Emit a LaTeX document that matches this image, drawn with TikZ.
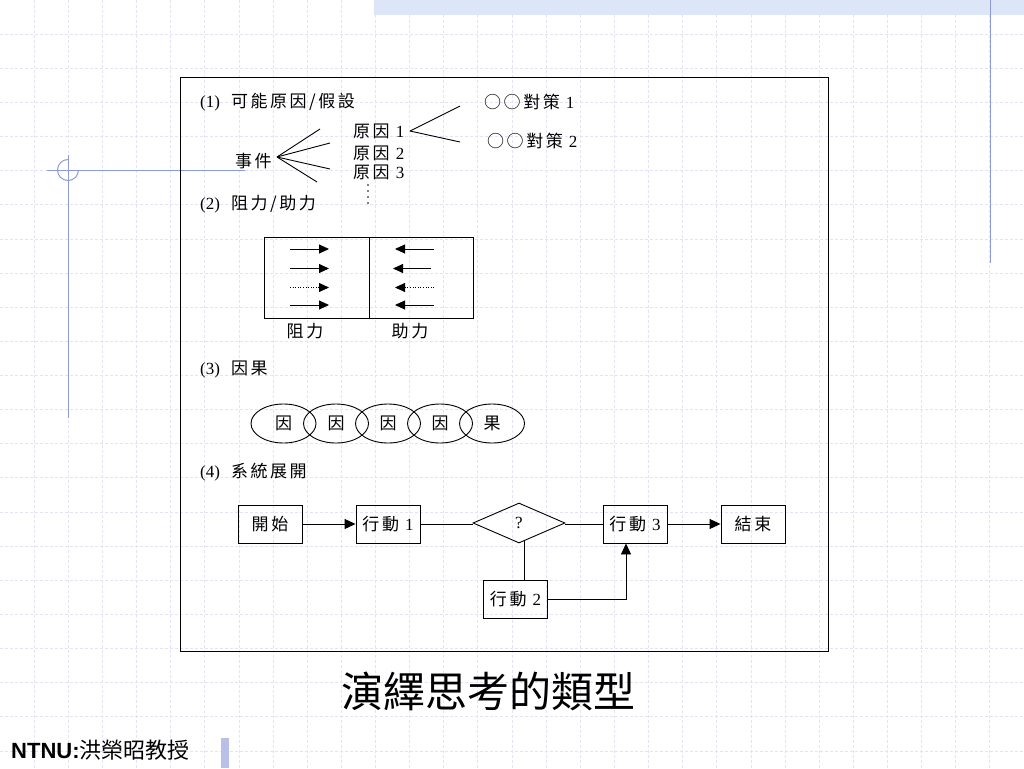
\documentclass[tikz,border=0pt]{standalone}
\usepackage{fontspec}
\setmainfont{Liberation Serif}
\newfontfamily\cj{Noto Sans CJK TC}[LetterSpace=15]
\newfontfamily\cjt{Noto Sans CJK TC}
\newfontfamily\arialf{Liberation Sans}
\usetikzlibrary{shapes.geometric,arrows.meta,calc}
\definecolor{gridc}{RGB}{226,228,243}
\definecolor{bandc}{RGB}{221,229,248}
\definecolor{bluel}{RGB}{140,154,216}
\definecolor{barc}{RGB}{184,192,232}
\tikzset{
  gridline/.style={draw=gridc, line width=0.8pt, dash pattern=on 3pt off 2pt},
  blueline/.style={draw=bluel, line width=1pt},
  lbl/.style={inner sep=0pt, anchor=west, font=\fontsize{17}{20}\selectfont},
  ctr/.style={inner sep=0pt, font=\fontsize{17}{20}\selectfont},
  fb/.style={draw, line width=0.9pt, minimum width=64pt, minimum height=38pt, inner sep=0pt, font=\fontsize{17}{20}\selectfont},
  dia/.style={draw, diamond, line width=0.9pt, minimum width=92pt, minimum height=40pt, inner sep=0pt, font=\fontsize{17}{20}\selectfont},
  ell/.style={draw, ellipse, line width=0.9pt, minimum width=65pt, minimum height=39pt, inner sep=0pt, font=\fontsize{17}{20}\selectfont},
  con/.style={line width=0.9pt},
  arr/.style={line width=0.9pt, -{Triangle[length=11pt,width=10pt]}},
  farr/.style={line width=0.9pt, -{Triangle[length=10pt,width=9pt]}},
}
\begin{document}
\begin{tikzpicture}[x=1pt,y=-1pt]
\useasboundingbox (0,0) rectangle (1024,768);
\fill[white] (0,0) rectangle (1024,768);
% background grid
\foreach \k in {1,...,29} \draw[gridline] (\k*34.133,0) -- (\k*34.133,768);
\foreach \k in {1,...,22} \draw[gridline] (0,\k*34.133) -- (1024,\k*34.133);
\fill[bandc] (374,0) rectangle (1024,15);
\draw[blueline] (990,0) -- (990,263);
\draw[blueline] (68,155) -- (68,418);
\draw[blueline] (47,170) -- (245,170);
\draw[blueline] (68,159.5) arc[start angle=-90,end angle=-360,radius=10.5];
\fill[barc] (221,738) rectangle (229,768);

% main frame
\draw[line width=1pt] (180,77) rectangle (828,651);

% (1)
\node[lbl] (h1) at (200,102) {(1)\hspace{11pt}{\cj 可能原因/假設}};
\node[lbl] (m1) at (484,102) {{\cj ○○對策}\hspace{6pt}1};
\node[lbl] (m2) at (487,141) {{\cj ○○對策}\hspace{6pt}2};
\node[lbl] (r1) at (353,131) {{\cj 原因}\hspace{6pt}1};
\node[lbl] (r2) at (353,153) {{\cj 原因}\hspace{6pt}2};
\node[lbl] (r3) at (353,172) {{\cj 原因}\hspace{6pt}3};
\foreach \y in {185,191,197,203} \fill (368,\y) circle (0.9);
\node[lbl] (ev) at (235,161) {\cj 事件};
\coordinate (f0) at (277,157);
\coordinate (f1) at (320,129);
\coordinate (f2) at (330,143);
\coordinate (f3) at (330,169);
\coordinate (f4) at (317,182);
\foreach \e in {f1,f2,f3,f4} \draw[con] (f0) -- (\e);
\coordinate (g0) at (410,131);
\coordinate (g1) at (460,106);
\coordinate (g2) at (460,142);
\draw[con] (g0) -- (g1);
\draw[con] (g0) -- (g2);

% (2)
\node[lbl] (h2) at (200,204) {(2)\hspace{11pt}{\cj 阻力/助力}};
\draw[line width=0.9pt] (264,237) rectangle (473,318);
\draw[line width=0.9pt] (369,237) -- (369,318);
\draw[farr] (290,249) -- (329,249);
\draw[farr] (290,268.5) -- (329,268.5);
\draw[line width=0.6pt, dotted] (290,287.5) -- (320,287.5);
\draw[farr] (318,287.5) -- (329,287.5);
\draw[farr] (290,305) -- (329,305);
\draw[farr] (434,249) -- (395,249);
\draw[farr] (431,268.5) -- (393,268.5);
\draw[line width=0.6pt, dotted] (434,287.5) -- (404,287.5);
\draw[farr] (406,287.5) -- (395,287.5);
\draw[farr] (434,305) -- (395,305);
\node[ctr] (zl) at (305,331) {\cj 阻力};
\node[ctr] (zr) at (410,331) {\cj 助力};

% (3)
\node[lbl] (h3) at (200,370) {(3)\hspace{11pt}{\cj 因果}};
\node[ell] (c1) at (283.5,423.5) {\cj 因};
\node[ell] (c2) at (336,423.5) {\cj 因};
\node[ell] (c3) at (388,423.5) {\cj 因};
\node[ell] (c4) at (440,423.5) {\cj 因};
\node[ell] (c5) at (492,423.5) {\cj 果};

% (4)
\node[lbl] (h4) at (200,472) {(4)\hspace{11pt}{\cj 系統展開}};
\node[fb] (s) at (270,524) {\cj 開始};
\node[fb] (a1) at (388,524) {{\cj 行動}\hspace{6pt}1};
\node[dia] (q) at (519,523) {?};
\node[fb] (a3) at (635,524) {{\cj 行動}\hspace{6pt}3};
\node[fb] (e) at (753,524) {\cj 結束};
\node[fb] (a2) at (515.5,599.5) {{\cj 行動}\hspace{6pt}2};
\draw[arr] (s) -- (a1);
\draw[con] (a1.east) -- (a1.east -| q.west);
\draw[con] (q.east |- a3.west) -- (a3.west);
\draw[arr] (a3) -- (e);
\draw[con] (q.-74) -- (q.-74 |- a2.north);
\draw[arr] (a2.east) -| ($(a3.south)+(-9,0)$);

% title and footer
\node[font=\cjt\fontsize{42}{48}\selectfont, inner sep=0pt] (title) at (488,691) {演繹思考的類型};
\node[anchor=west, inner sep=0pt, font=\fontsize{22}{26}\selectfont] (au) at (11,750) {{\arialf\bfseries NTNU:}{\cjt 洪榮昭教授}};
\end{tikzpicture}
\end{document}
